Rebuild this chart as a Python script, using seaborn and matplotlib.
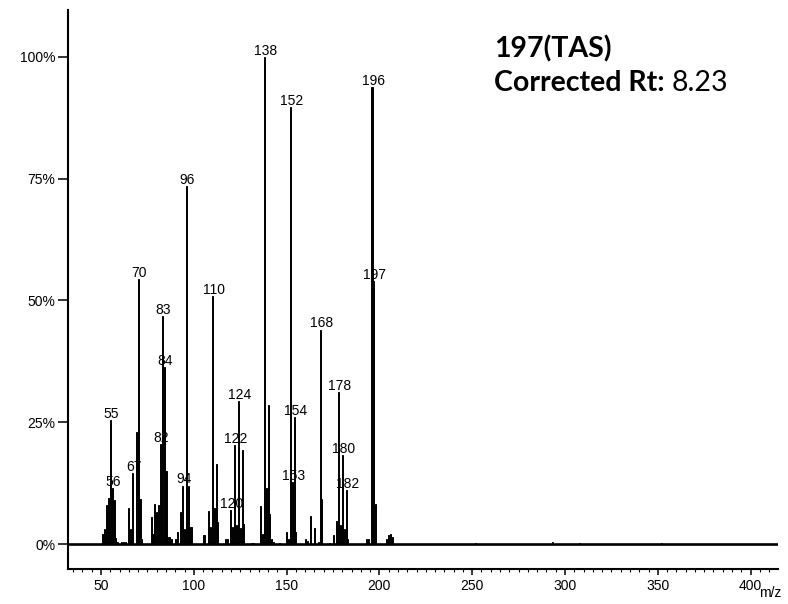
import matplotlib
matplotlib.use("Agg")
import matplotlib.pyplot as plt
from matplotlib.ticker import FixedLocator, MultipleLocator
import seaborn as sns
import pandas as pd

# Mass spectrum of 197(TAS): m/z values and relative intensities (%)
mz = [51, 52, 53, 54, 55, 56, 57, 58, 59, 61, 62, 63,
      65, 66, 67, 69, 70, 71, 72, 77, 78, 79, 80, 81,
      82, 83, 84, 85, 86, 87, 88, 90, 91, 93, 94, 95,
      96, 97, 98, 99, 105, 106, 108, 109, 110, 111, 112, 113,
      117, 118, 120, 121, 122, 123, 124, 125, 126, 127, 131, 132,
      136, 137, 138, 139, 140, 141, 142, 143, 146, 150, 151, 152,
      153, 154, 155, 160, 161, 163, 165, 167, 168, 169, 173, 175,
      177, 178, 179, 180, 181, 182, 183, 193, 194, 196, 197, 198,
      204, 205, 206, 207, 252, 293, 308, 352]
intensity = [2.0, 3.0, 8.0, 9.5, 25.5, 11.5, 9.0, 1.2, 0.5, 0.5, 0.5, 0.4,
             7.3, 3.0, 14.5, 23.0, 54.4, 9.2, 1.0, 5.6, 2.0, 8.2, 6.6, 8.0,
             20.5, 46.7, 36.3, 15.0, 1.5, 1.5, 1.0, 1.0, 2.5, 6.6, 12.0, 3.0,
             73.5, 12.0, 3.5, 3.5, 1.8, 1.8, 6.8, 3.5, 50.8, 7.3, 16.5, 4.6,
             1.0, 1.0, 7.0, 3.5, 20.3, 3.9, 29.4, 3.2, 19.3, 4.2, 0.3, 0.3,
             7.7, 2.0, 100.0, 11.4, 28.5, 6.2, 1.0, 0.5, 0.3, 2.5, 1.0, 89.7,
             12.7, 26.0, 2.5, 1.0, 0.6, 5.8, 3.2, 0.5, 44.0, 9.2, 0.3, 1.8,
             4.8, 31.2, 4.0, 18.3, 3.0, 11.0, 1.0, 1.0, 1.0, 93.8, 54.0, 8.2,
             1.0, 1.8, 2.0, 1.5, 0.3, 0.4, 0.3, 0.3]

# Peaks annotated with their m/z
labeled_mz = [55, 56, 67, 70, 82, 83, 84, 94, 96, 110, 120, 122, 124,
              138, 152, 153, 154, 168, 178, 180, 182, 196, 197]

y_ticks = [0, 25, 50, 75, 100]
y_tick_labels = ["0%", "25%", "50%", "75%", "100%"]
x_ticks = [50, 100, 150, 200, 250, 300, 350, 400]

title_line1 = "197(TAS)"
title_line2_bold = "Corrected Rt:"
title_line2_value = "8.23"

sns.set_theme(style="ticks")
plt.rcParams["font.family"] = ["Liberation Sans", "DejaVu Sans"]

W, H = 788, 604
fig = plt.figure(figsize=(W / 100, H / 100), dpi=100)
ax = fig.add_axes([68 / W, 35 / H, (777.7 - 68) / W, (569 - 10) / H])

df = pd.DataFrame({"mz": mz, "intensity": intensity})
sns.barplot(data=df, x="mz", y="intensity", native_scale=True, width=0.55,
            color="black", saturation=1, edgecolor="black", linewidth=0.7,
            errorbar=None, ax=ax)

# baseline of the trace
ax.axhline(0, color="black", lw=1.9, zorder=3)

ax.set_xlim(32.2, 414.6)
ax.set_ylim(-5.13, 109.6)

# m/z annotations above the peaks
lookup = dict(zip(mz, intensity))
for m in labeled_mz:
    ax.annotate(str(m), xy=(m, lookup[m]), xytext=(0.8, -0.6),
                textcoords="offset points", ha="center", va="bottom",
                fontsize=10, color="black")

ax.yaxis.set_major_locator(FixedLocator(y_ticks))
ax.set_yticklabels(y_tick_labels)
ax.xaxis.set_major_locator(FixedLocator(x_ticks))
ax.set_xticklabels([str(t) for t in x_ticks])
ax.xaxis.set_minor_locator(MultipleLocator(5))

ax.tick_params(axis="y", which="major", direction="out", length=7, width=1.1,
               color="black", pad=2, labelsize=10, labelcolor="black")
ax.tick_params(axis="x", which="major", direction="out", length=4.5, width=1.1,
               color="black", pad=3, labelsize=10, labelcolor="black")
ax.tick_params(axis="x", which="minor", direction="out", length=2, width=0.8,
               color="black")

ax.set_xlabel("")
ax.set_ylabel("")
for side in ("top", "right"):
    ax.spines[side].set_visible(False)
for side in ("left", "bottom"):
    ax.spines[side].set_color("black")
    ax.spines[side].set_linewidth(1.5)

fig.text(770 / W, 1 - 593 / H, "m/z", ha="center", va="center",
         fontsize=10, color="black")

# Compound name and retention time
title_font = ["Lato", "DejaVu Sans"]
fs = 20.5
fig.text(494 / W, 1 - 57 / H, title_line1, ha="left", va="baseline",
         fontsize=fs, fontweight="bold", family=title_font, color="black")
t_bold = fig.text(494 / W, 1 - 91 / H, title_line2_bold, ha="left",
                  va="baseline", fontsize=fs, fontweight="bold",
                  family=title_font, color="black")
fig.canvas.draw()
bb = t_bold.get_window_extent(renderer=fig.canvas.get_renderer())
fig.text((bb.x1 + 7) / W, 1 - 91 / H, title_line2_value, ha="left",
         va="baseline", fontsize=fs, family=title_font, color="black")

fig.savefig("out.png", dpi=100)
